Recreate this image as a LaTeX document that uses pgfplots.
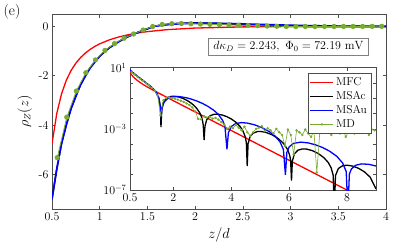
\documentclass[border=0pt]{standalone}
\usepackage{pgfplots}
\pgfplotsset{compat=1.18}
\usepackage{pgfplotstable}
\definecolor{mdgreen}{rgb}{0.466,0.674,0.188}
\definecolor{axgray}{gray}{0.3}

% MFC (red): z, signed rho, |rho|
\pgfplotstableread{
z r a
0.50 -4.765 4.765
0.55 -3.531 3.531
0.60 -2.733 2.733
0.65 -2.184 2.184
0.70 -1.788 1.788
0.75 -1.491 1.491
0.80 -1.262 1.262
0.85 -1.080 1.080
0.90 -0.9328 0.9328
0.95 -0.811 0.811
1.00 -0.709 0.709
1.10 -0.549 0.549
1.20 -0.430 0.430
1.30 -0.3394 0.3394
1.40 -0.269 0.269
1.50 -0.2139 0.2139
1.70 -0.1359 0.1359
2.00 -0.06914 0.06914
2.50 -0.0225 0.0225
3.00 -0.00733 0.00733
3.50 -0.002387 0.002387
4.00 -7.78e-4 7.78e-4
5.00 -8.26e-5 8.26e-5
7.00 -9.31e-7 9.31e-7
9.00 -1.05e-8 1.05e-8
}\tabMFC

% MSAc (black)
\pgfplotstableread{
z r a
0.50 -7.00 7.00
0.55 -5.78 5.78
0.60 -4.75 4.75
0.65 -3.99 3.99
0.70 -3.33 3.33
0.75 -2.83 2.83
0.80 -2.36 2.36
0.85 -2.01 2.01
0.90 -1.68 1.68
0.95 -1.44 1.44
1.00 -1.21 1.21
1.05 -1.03 1.03
1.10 -0.87 0.87
1.15 -0.74 0.74
1.20 -0.62 0.62
1.25 -0.51 0.51
1.30 -0.41 0.41
1.35 -0.33 0.33
1.40 -0.245 0.245
1.45 -0.17 0.17
1.50 -0.10 0.10
1.55 -0.025 0.025
1.57 1.3e-3 1.3e-3
1.60 0.0217 0.0217
1.65 0.0530 0.0530
1.70 0.0783 0.0783
1.80 0.1135 0.1135
1.90 0.1312 0.1312
2.00 0.1358 0.1358
2.10 0.1303 0.1303
2.20 0.1183 0.1183
2.30 0.1025 0.1025
2.40 0.0849 0.0849
2.50 0.0672 0.0672
2.60 0.0504 0.0504
2.70 0.0353 0.0353
2.80 0.02254 0.02254
2.90 0.01205 0.01205
2.95 0.00769 0.00769
3.00 0.00387 0.00387
3.03 0.00184 0.00184
3.06 1.86e-4 1.86e-4
3.09 -1.47e-3 1.47e-3
3.15 -3.95e-3 3.95e-3
3.25 -6.87e-3 6.87e-3
3.40 -8.95e-3 8.95e-3
3.55 -9.02e-3 9.02e-3
3.70 -7.91e-3 7.91e-3
3.85 -6.22e-3 6.22e-3
4.00 -4.43e-3 4.43e-3
4.15 -2.79e-3 2.79e-3
4.30 -1.45e-3 1.45e-3
4.40 -7.53e-4 7.53e-4
4.48 -3.10e-4 3.10e-4
4.52 -1.24e-4 1.24e-4
4.55 3.7e-6 3.7e-6
4.58 1.07e-4 1.07e-4
4.65 3.15e-4 3.15e-4
4.75 5.19e-4 5.19e-4
4.90 6.61e-4 6.61e-4
5.05 6.62e-4 6.62e-4
5.20 5.81e-4 5.81e-4
5.40 4.16e-4 4.16e-4
5.60 2.49e-4 2.49e-4
5.80 1.15e-4 1.15e-4
5.95 4.33e-5 4.33e-5
6.02 1.78e-5 1.78e-5
6.05 8.5e-6 8.5e-6
6.08 4.1e-7 4.1e-7
6.11 -7.87e-6 7.87e-6
6.18 -2.31e-5 2.31e-5
6.30 -4.01e-5 4.01e-5
6.45 -4.86e-5 4.86e-5
6.60 -4.74e-5 4.74e-5
6.80 -3.76e-5 3.76e-5
7.00 -2.47e-5 2.47e-5
7.20 -1.30e-5 1.30e-5
7.35 -6.27e-6 6.27e-6
7.45 -2.83e-6 2.83e-6
7.52 -9.2e-7 9.2e-7
7.56 5e-9 5e-9
7.60 8.8e-7 8.8e-7
7.70 2.56e-6 2.56e-6
7.85 3.90e-6 3.90e-6
8.00 4.21e-6 4.21e-6
8.20 3.64e-6 3.64e-6
8.40 2.60e-6 2.60e-6
8.60 1.54e-6 1.54e-6
8.80 6.87e-7 6.87e-7
9.00 1.17e-7 1.17e-7
}\tabMSAc

% MSAu (blue)
\pgfplotstableread{
z r a
0.50 -7.00 7.00
0.55 -5.78 5.78
0.60 -4.75 4.75
0.65 -3.99 3.99
0.70 -3.33 3.33
0.75 -2.83 2.83
0.80 -2.36 2.36
0.85 -2.01 2.01
0.90 -1.68 1.68
0.95 -1.44 1.44
1.00 -1.21 1.21
1.05 -1.03 1.03
1.10 -0.87 0.87
1.15 -0.74 0.74
1.20 -0.62 0.62
1.25 -0.51 0.51
1.30 -0.41 0.41
1.35 -0.33 0.33
1.40 -0.245 0.245
1.45 -0.17 0.17
1.50 -0.10 0.10
1.55 -0.025 0.025
1.57 5e-3 5e-3
1.60 0.0169 0.0169
1.65 0.0417 0.0417
1.70 0.0627 0.0627
1.80 0.0945 0.0945
1.90 0.1146 0.1146
2.00 0.1254 0.1254
2.15 0.1324 0.1324
2.30 0.1211 0.1211
2.45 0.1073 0.1073
2.60 0.0905 0.0905
2.80 0.0673 0.0673
3.00 0.0464 0.0464
3.20 0.0291 0.0291
3.40 0.0161 0.0161
3.55 8.91e-3 8.91e-3
3.70 3.62e-3 3.62e-3
3.78 1.51e-3 1.51e-3
3.85 4.6e-5 4.6e-5
3.90 -5.55e-4 5.55e-4
4.00 -1.42e-3 1.42e-3
4.15 -2.21e-3 2.21e-3
4.35 -2.56e-3 2.56e-3
4.55 -2.39e-3 2.39e-3
4.80 -1.85e-3 1.85e-3
5.05 -1.22e-3 1.22e-3
5.30 -6.81e-4 6.81e-4
5.50 -3.55e-4 3.55e-4
5.68 -1.45e-4 1.45e-4
5.80 -4.52e-5 4.52e-5
5.87 1.0e-6 1.0e-6
5.92 2.89e-5 2.89e-5
6.00 6.64e-5 6.64e-5
6.15 1.12e-4 1.12e-4
6.40 1.35e-4 1.35e-4
6.65 1.21e-4 1.21e-4
6.90 9.14e-5 9.14e-5
7.15 6.04e-5 6.04e-5
7.40 3.44e-5 3.44e-5
7.65 1.57e-5 1.57e-5
7.85 5.73e-6 5.73e-6
7.97 1.61e-6 1.61e-6
8.03 5e-9 5e-9
8.08 -1.10e-6 1.10e-6
8.15 -2.38e-6 2.38e-6
8.30 -4.18e-6 4.18e-6
8.50 -5.10e-6 5.10e-6
8.75 -4.78e-6 4.78e-6
9.00 -3.71e-6 3.71e-6
}\tabMSAu

% MD (green)
\pgfplotstableread{
z r a
0.555 -5.32 5.32
0.655 -3.68 3.68
0.755 -2.62 2.62
0.855 -1.88 1.88
0.955 -1.36 1.36
1.055 -0.975 0.975
1.155 -0.70 0.70
1.255 -0.48 0.48
1.355 -0.31 0.31
1.455 -0.15 0.15
1.555 -0.008 0.008
1.655 0.075 0.075
1.755 0.105 0.105
1.855 0.112 0.112
1.955 0.105 0.105
2.055 0.093 0.093
2.155 0.081 0.081
2.255 0.069 0.069
2.355 0.058 0.058
2.455 0.046 0.046
2.555 0.036 0.036
2.655 0.025 0.025
2.755 0.0135 0.0135
2.855 0.0045 0.0045
2.955 -0.0042 0.0042
3.055 -0.0068 0.0068
3.155 -0.0055 0.0055
3.255 -0.0062 0.0062
3.355 -0.0047 0.0047
3.455 -0.0052 0.0052
3.555 -0.0040 0.0040
3.655 -0.0028 0.0028
3.755 -0.0019 0.0019
3.855 -0.00095 0.00095
3.955 0.0014 0.0014
4.055 0.0011 0.0011
4.155 0.0018 0.0018
4.255 0.0012 0.0012
4.355 0.0008 0.0008
4.455 0.0014 0.0014
4.555 -0.0006 0.0006
4.655 -0.00035 0.00035
4.755 0.0006 0.0006
4.855 0.0010 0.0010
4.955 0.0012 0.0012
5.055 0.0015 0.0015
5.155 0.0007 0.0007
5.255 0.0011 0.0011
5.355 -0.0008 0.0008
5.455 -0.0005 0.0005
5.555 0.0010 0.0010
5.655 -0.0006 0.0006
5.755 0.0004 0.0004
5.855 7.6e-5 7.6e-5
5.955 -0.0009 0.0009
6.055 0.0004 0.0004
6.155 2.2e-5 2.2e-5
6.255 0.0008 0.0008
6.355 -0.0006 0.0006
6.455 0.0004 0.0004
6.555 -0.0009 0.0009
6.655 0.0005 0.0005
6.755 -0.0003 0.0003
6.855 0.0007 0.0007
6.955 1.4e-6 1.4e-6
7.055 -0.0005 0.0005
7.155 0.0012 0.0012
7.255 -0.0006 0.0006
7.355 0.0009 0.0009
7.455 0.0004 0.0004
7.555 -0.0008 0.0008
7.655 0.0012 0.0012
7.755 0.0005 0.0005
7.855 -0.0009 0.0009
7.955 0.0003 0.0003
8.055 0.0007 0.0007
8.155 -0.0011 0.0011
8.255 0.0005 0.0005
8.355 0.0009 0.0009
8.455 -0.0014 0.0014
8.555 0.0006 0.0006
8.655 0.0010 0.0010
8.755 -0.0004 0.0004
8.855 0.0009 0.0009
8.955 0.0008 0.0008
}\tabMD

\begin{document}
\begin{tikzpicture}
\path[use as bounding box] (0bp,0bp) rectangle (407bp,245bp);

\begin{axis}[
  at={(52bp,36bp)}, anchor=south west,
  scale only axis, width=334bp, height=195bp,
  xmin=0.5, xmax=4, ymin=-7.4, ymax=0.5,
  xtick={0.5,1,1.5,2,2.5,3,3.5,4},
  xticklabels={0.5,1,1.5,2,2.5,3,3.5,4},
  ytick={-6,-4,-2,0}, yticklabels={-6,-4,-2,0},
  tick align=inside, major tick length=3.5bp,
  axis line style={axgray, line width=0.5bp},
  tick style={axgray, line width=0.5bp},
  ticklabel style={font=\fontsize{12}{14}\selectfont},
  label style={font=\fontsize{13.5}{16}\selectfont},
  xlabel={$z/d$}, ylabel={$\rho_Z(z)$},
]
\addplot[red, line width=1.3bp] table[x=z, y=r] {\tabMFC};
\addplot[black, line width=1.6bp] table[x=z, y=r] {\tabMSAc};
\addplot[blue, line width=1.6bp] table[x=z, y=r] {\tabMSAu};
\addplot[mdgreen, line width=0.8bp, mark=*, mark size=2.2bp,
  mark options={fill=mdgreen, draw=mdgreen},
  restrict x to domain=0.5:4] table[x=z, y=r] {\tabMD};
\node[draw=gray, fill=white, line width=0.5bp, inner xsep=5bp, inner ysep=3.5bp,
  font=\fontsize{12}{14}\selectfont]
  at (rel axis cs:0.708,0.833) {$d\kappa_D = 2.243,\ \Phi_0 = 72.19\ \mathrm{mV}$};
\end{axis}

\begin{axis}[
  at={(130bp,55bp)}, anchor=south west,
  scale only axis, width=246bp, height=122.3bp,
  xmin=0.5, xmax=9, ymode=log, ymin=1e-7, ymax=10,
  xtick={0.5,2,4,6,8}, xticklabels={0.5,2,4,6,8},
  ytick={1e1,1e0,1e-1,1e-2,1e-3,1e-4,1e-5,1e-6,1e-7},
  yticklabels={$10^{1}$,,,,$10^{-3}$,,,,$10^{-7}$},
  yminorticks=false,
  axis background/.style={fill=white},
  tick align=inside, major tick length=3bp,
  axis line style={axgray, line width=0.5bp},
  tick style={axgray, line width=0.5bp},
  ticklabel style={font=\fontsize{12}{14}\selectfont},
  legend style={at={(0.98,0.955)}, anchor=north east, draw=axgray, fill=white,
    font=\fontsize{11.5}{13}\selectfont, inner sep=2bp, row sep=0.5bp},
  legend cell align=left,
  legend image code/.code={\draw[mark repeat=2,mark phase=2,#1]
    plot coordinates {(0bp,0bp) (11.5bp,0bp) (23bp,0bp)};},
]
\addplot[color=red, line width=1.3bp] table[x=z, y=a] {\tabMFC};
\addlegendentry{MFC}
\addplot[color=black, line width=1.3bp] table[x=z, y=a] {\tabMSAc};
\addlegendentry{MSAc}
\addplot[color=blue, line width=1.3bp] table[x=z, y=a] {\tabMSAu};
\addlegendentry{MSAu}
\addplot[color=mdgreen, line width=0.6bp, mark=*, mark size=0.9bp,
  mark options={fill=mdgreen, draw=mdgreen}] table[x=z, y=a] {\tabMD};
\addlegendentry{MD}
\end{axis}

\node[font=\fontsize{15}{18}\selectfont] at (12bp,233bp) {(e)};
\end{tikzpicture}
\end{document}
